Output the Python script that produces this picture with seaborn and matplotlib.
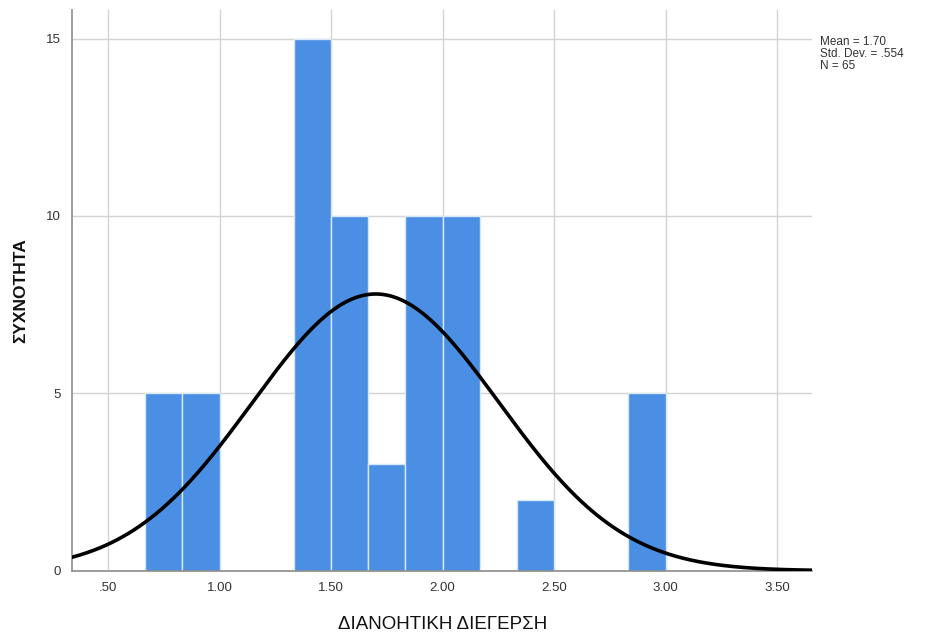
import numpy as np
import pandas as pd
import matplotlib
matplotlib.use("Agg")
import matplotlib.pyplot as plt
import seaborn as sns

# Histogram bins (width 1/6) and frequencies
bin_centers = [0.75, 0.9167, 1.0833, 1.25, 1.4167, 1.5833, 1.75, 1.9167,
               2.0833, 2.25, 2.4167, 2.5833, 2.75, 2.9167]
counts = [5, 5, 0, 0, 15, 10, 3, 10, 10, 0, 2, 0, 0, 5]
bin_edges = [0.6667 + i / 6 for i in range(15)]

# Summary statistics shown on the chart
mean_val = 1.70
sd_val = 0.554
n_val = 65

x_ticks = [0.5, 1.0, 1.5, 2.0, 2.5, 3.0, 3.5]
x_tick_labels = [".50", "1.00", "1.50", "2.00", "2.50", "3.00", "3.50"]
y_ticks = [0, 5, 10, 15]

sns.set_theme(style="white")
plt.rcParams["font.family"] = ["Liberation Sans", "DejaVu Sans"]

fig = plt.figure(figsize=(9.25, 6.37), dpi=100)
ax = fig.add_axes([0.078, 0.104, 0.800, 0.880])

df = pd.DataFrame({"value": bin_centers, "freq": counts})
sns.histplot(data=df, x="value", weights="freq", bins=bin_edges, ax=ax,
             color="#4a8fe3", alpha=1.0, edgecolor="#d8e8fb", linewidth=1.0,
             zorder=2)

# Fitted normal curve scaled to counts
bw = 1 / 6
xs = np.linspace(0.339, 3.66, 400)
ys = n_val * bw / (sd_val * np.sqrt(2 * np.pi)) * np.exp(-0.5 * ((xs - mean_val) / sd_val) ** 2)
sns.lineplot(x=xs, y=ys, ax=ax, color="black", linewidth=2.6, zorder=3)

ax.set_xlim(0.339, 3.657)
ax.set_ylim(0, 15.8)
ax.set_xticks(x_ticks)
ax.set_xticklabels(x_tick_labels)
ax.set_yticks(y_ticks)
ax.grid(True, color="#d4d4d4", linewidth=1.0, zorder=0)
ax.set_axisbelow(True)
for side in ["top", "right"]:
    ax.spines[side].set_visible(False)
for side in ["left", "bottom"]:
    ax.spines[side].set_color("#8c8c8c")
    ax.spines[side].set_linewidth(1.2)
ax.tick_params(axis="both", length=0, labelsize=9.5, labelcolor="#333333", pad=8)

ax.set_xlabel("ΔΙΑΝΟΗΤΙΚΗ ΔΙΕΓΕΡΣΗ", fontsize=13.5, color="#111111", labelpad=16)
ax.set_ylabel("ΣΥΧΝΟΤΗΤΑ", fontsize=12.5, fontweight="bold", color="#111111")
ax.yaxis.set_label_coords(-0.060, 0.5)

fig.text(0.886, 0.943, f"Mean = {mean_val:.2f}\nStd. Dev. = .{int(round(sd_val*1000))}\nN = {n_val}",
         fontsize=8.5, color="#333333", va="top", ha="left", linespacing=1.0)

fig.savefig("out.png", dpi=100, facecolor="white")
